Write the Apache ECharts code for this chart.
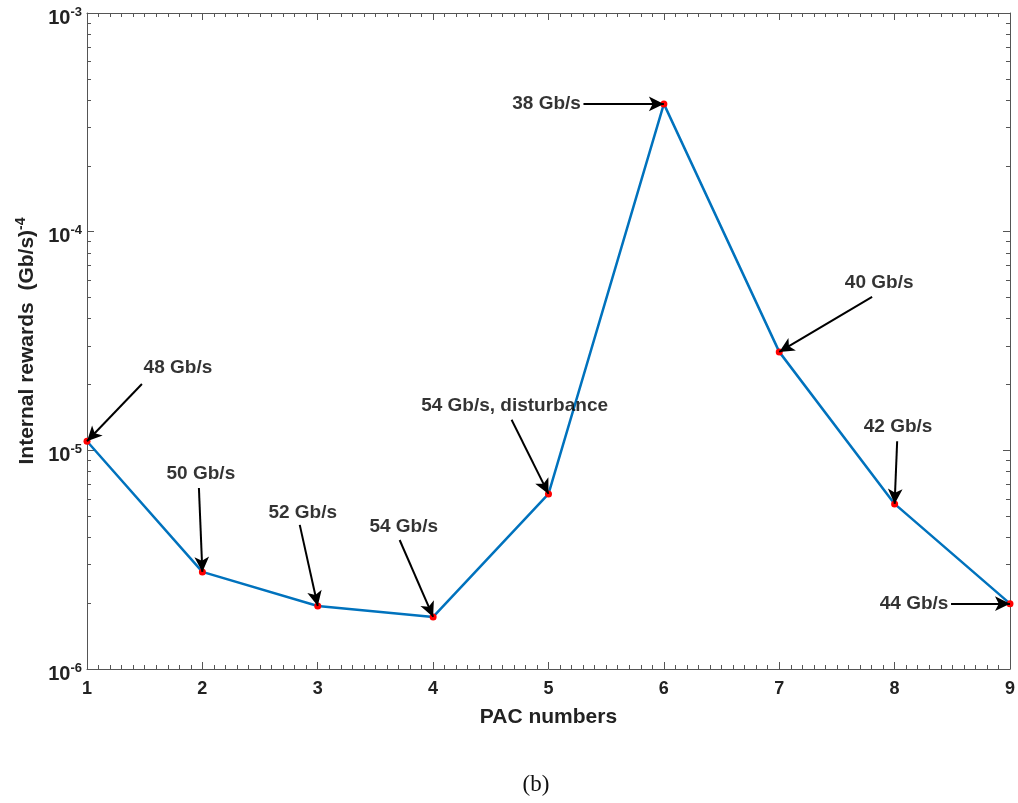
<!DOCTYPE html>
<html>
<head>
<meta charset="utf-8">
<script src="https://cdn.jsdelivr.net/npm/echarts@6/dist/echarts.min.js"></script>
<style>
  html, body { margin: 0; padding: 0; background: #fff; }
  #chart { width: 1018px; height: 803px; }
</style>
</head>
<body>
<div id="chart"></div>
<script>
// PAC index and internal reward per PAC
const pacNumbers = [1, 2, 3, 4, 5, 6, 7, 8, 9];
const rewards = [1.10e-5, 2.78e-6, 1.94e-6, 1.73e-6, 6.32e-6, 3.84e-4, 2.82e-5, 5.69e-6, 1.99e-6];

// Callouts: text, index of the point they refer to, text anchor and arrow tail (data coords)
const noteTexts = ['48 Gb/s', '50 Gb/s', '52 Gb/s', '54 Gb/s', '54 Gb/s, disturbance', '38 Gb/s', '40 Gb/s', '42 Gb/s', '44 Gb/s'];
const notePoint = [0, 1, 2, 3, 4, 5, 6, 7, 8];
const noteTextX = [1.788, 1.987, 2.870, 3.745, 4.706, 4.983, 7.866, 8.030, 8.169];
const noteTextY = [2.38e-5, 7.80e-6, 5.17e-6, 4.46e-6, 1.60e-5, 3.84e-4, 5.83e-5, 1.28e-5, 1.99e-6];
const tailX = [1.476, 1.970, 2.844, 3.710, 4.680, 5.303, 7.805, 8.022, 8.489];
const tailY = [2.01e-5, 6.73e-6, 4.56e-6, 3.89e-6, 1.38e-5, 3.84e-4, 5.03e-5, 1.10e-5, 1.99e-6];

const FONT = 'Liberation Sans';
const AXIS_COLOR = '#555';
const TEXT_COLOR = '#222';

const arrows = noteTexts.map((t, i) => [
  { coord: [tailX[i], tailY[i]] },
  { coord: [pacNumbers[notePoint[i]], rewards[notePoint[i]]] }
]);

const chart = echarts.init(document.getElementById('chart'));
chart.setOption({
  animation: false,
  backgroundColor: '#fff',
  grid: { left: 87, right: 7, top: 13, bottom: 134 },
  xAxis: [
    {
      type: 'value', min: 1, max: 9, interval: 1,
      name: 'PAC numbers', nameLocation: 'middle', nameGap: 38,
      nameTextStyle: { fontFamily: FONT, fontWeight: 'bold', fontSize: 21, color: TEXT_COLOR },
      axisLine: { lineStyle: { color: AXIS_COLOR, width: 1 } },
      axisTick: { inside: true, length: 7, lineStyle: { color: AXIS_COLOR } },
      minorTick: { show: true, splitNumber: 10, length: 4, lineStyle: { color: AXIS_COLOR } },
      axisLabel: { fontFamily: FONT, fontWeight: 'bold', fontSize: 18, color: TEXT_COLOR, margin: 11 },
      splitLine: { show: false }
    },
    {
      type: 'value', min: 1, max: 9, interval: 1, position: 'top',
      axisLine: { lineStyle: { color: AXIS_COLOR, width: 1 } },
      axisTick: { inside: true, length: 7, lineStyle: { color: AXIS_COLOR } },
      minorTick: { show: true, splitNumber: 10, length: 4, lineStyle: { color: AXIS_COLOR } },
      axisLabel: { show: false },
      splitLine: { show: false }
    }
  ],
  yAxis: [
    {
      type: 'log', logBase: 10, min: 1e-6, max: 1e-3,
      name: 'Internal rewards  (Gb/s){sup|-4}', nameLocation: 'middle', nameGap: 47,
      nameTextStyle: {
        fontFamily: FONT, fontWeight: 'bold', fontSize: 21, color: TEXT_COLOR,
        rich: { sup: { fontFamily: FONT, fontWeight: 'bold', fontSize: 14, color: TEXT_COLOR, verticalAlign: 'top', padding: [0, 0, 12, 0] } }
      },
      axisLine: { show: true, lineStyle: { color: AXIS_COLOR, width: 1 } },
      axisTick: { show: true, inside: true, length: 7, lineStyle: { color: AXIS_COLOR } },
      minorTick: { show: true, splitNumber: 9, length: 4, lineStyle: { color: AXIS_COLOR } },
      axisLabel: {
        margin: 5,
        padding: [10, 0, 0, 0],
        formatter: v => '{b|10}{s|' + Math.round(Math.log10(v)) + '}',
        rich: {
          b: { fontFamily: FONT, fontWeight: 'bold', fontSize: 20, color: TEXT_COLOR },
          s: { fontFamily: FONT, fontWeight: 'bold', fontSize: 13, color: TEXT_COLOR, verticalAlign: 'top', padding: [0, 0, 12, 0] }
        }
      },
      splitLine: { show: false }
    },
    {
      type: 'log', logBase: 10, min: 1e-6, max: 1e-3, position: 'right',
      axisLine: { show: true, lineStyle: { color: AXIS_COLOR, width: 1 } },
      axisTick: { show: true, inside: true, length: 7, lineStyle: { color: AXIS_COLOR } },
      minorTick: { show: true, splitNumber: 9, length: 4, lineStyle: { color: AXIS_COLOR } },
      axisLabel: { show: false },
      splitLine: { show: false }
    }
  ],
  series: [
    {
      type: 'line',
      data: pacNumbers.map((x, i) => [x, rewards[i]]),
      lineStyle: { color: '#0072BD', width: 2.5 },
      symbol: 'circle', symbolSize: 7,
      itemStyle: { color: '#ff0000' },
      z: 3,
      markLine: {
        silent: true,
        symbol: ['none', 'arrow'],
        symbolSize: [11, 15],
        lineStyle: { color: '#000', width: 2, type: 'solid' },
        label: { show: false },
        data: arrows,
        z: 4
      }
    },
    {
      type: 'scatter',
      symbolSize: 0,
      silent: true,
      data: noteTexts.map((t, i) => ({ value: [noteTextX[i], noteTextY[i]], name: t })),
      label: {
        show: true, position: 'inside',
        formatter: p => p.name,
        fontFamily: FONT, fontWeight: 'bold', fontSize: 19, color: '#000'
      },
      z: 5
    }
  ],
  graphic: [
    {
      type: 'text', x: 536, y: 785,
      style: { text: '(b)', fontFamily: 'Liberation Serif', fontSize: 23, fill: '#111', align: 'center', verticalAlign: 'middle' }
    }
  ]
});
</script>
</body>
</html>
